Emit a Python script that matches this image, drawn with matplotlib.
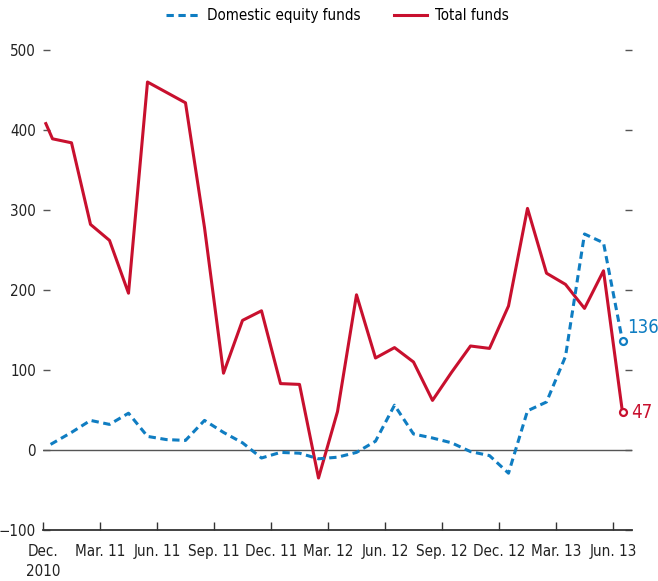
import matplotlib
matplotlib.use('Agg')
import matplotlib.pyplot as plt
from matplotlib import font_manager

# month offsets from Dec. 2010 (points sit mid-month)
total_x = [0.15, 0.5, 1.5, 2.5, 3.5, 4.5, 5.5, 6.5, 7.5, 8.5, 9.5, 10.5, 11.5, 12.5,
           13.5, 14.5, 15.5, 16.5, 17.5, 18.5, 19.5, 20.5, 21.5, 22.5, 23.5, 24.5,
           25.5, 26.5, 27.5, 28.5, 29.5, 30.5]
total_funds = [408, 389, 384, 282, 262, 196, 460, 447, 434, 278, 96, 162, 174, 83,
               82, -35, 48, 194, 115, 128, 110, 62, 97, 130, 127, 180,
               302, 221, 207, 177, 224, 47]

equity_x = [0.4, 1.5, 2.5, 3.5, 4.5, 5.5, 6.5, 7.5, 8.5, 9.5, 10.5, 11.5, 12.5,
            13.5, 14.5, 15.5, 16.5, 17.5, 18.5, 19.5, 20.5, 21.5, 22.5, 23.5, 24.5,
            25.5, 26.5, 27.5, 28.5, 29.5, 30.5]
domestic_equity = [7, 22, 37, 32, 46, 17, 13, 12, 37, 22, 9, -10, -3, -4, -11,
                   -9, -3, 11, 56, 20, 15, 9, -2, -7, -29, 49, 60, 117, 270, 259, 136]

tick_pos = [0, 3, 6, 9, 12, 15, 18, 21, 24, 27, 30]
tick_labels = ['Dec.\n2010', 'Mar. 11', 'Jun. 11', 'Sep. 11', 'Dec. 11', 'Mar. 12',
               'Jun. 12', 'Sep. 12', 'Dec. 12', 'Mar. 13', 'Jun. 13']
y_ticks = [-100, 0, 100, 200, 300, 400, 500]

RED = '#C8102E'
BLUE = '#0F7DC2'
GREY = '#333333'

# the original uses a condensed sans; take one if the machine has it
narrow = None
for f in font_manager.fontManager.ttflist:
    stretch = str(f.stretch)
    if ('Narrow' in f.name or 'Condensed' in f.name
            or stretch in ('condensed', 'semi-condensed', '500', '600')) \
            and f.style == 'normal' and f.weight in (400, 'normal', 'regular'):
        narrow = f
        break

if narrow is not None:
    plt.rcParams['font.family'] = [narrow.name, 'DejaVu Sans']
    plt.rcParams['font.stretch'] = narrow.stretch
    FS = 10.9
else:
    plt.rcParams['font.family'] = ['Liberation Sans', 'DejaVu Sans']
    FS = 10.4

fig = plt.figure(figsize=(6.58, 5.81), dpi=100)
ax = fig.add_axes([43 / 658, 1 - 530 / 581, (632 - 43) / 658, 480 / 581])

ax.axhline(0, color='#555555', linewidth=1.0, zorder=1)
ax.plot(equity_x, domestic_equity, color=BLUE, linewidth=2.2, dashes=(2.4, 1.5),
        label='Domestic equity funds', zorder=3)
ax.plot(total_x, total_funds, color=RED, linewidth=2.2, label='Total funds', zorder=2)

# end markers and values
ax.plot(equity_x[-1], domestic_equity[-1], 'o', ms=5, mfc='white', mec=BLUE, mew=1.6,
        zorder=4, clip_on=False)
ax.plot(total_x[-1], total_funds[-1], 'o', ms=5, mfc='white', mec=RED, mew=1.6,
        zorder=4, clip_on=False)
ax.annotate(str(domestic_equity[-1]), (equity_x[-1], domestic_equity[-1]),
            xytext=(3, 10), textcoords='offset points', color=BLUE, fontsize=FS + 2.5,
            va='center', ha='left', annotation_clip=False)
ax.annotate(str(total_funds[-1]), (total_x[-1], total_funds[-1]),
            xytext=(6, 0), textcoords='offset points', color=RED, fontsize=FS + 2.5,
            va='center', ha='left', annotation_clip=False)

ax.set_xlim(0, 31)
ax.set_ylim(-100, 500)
ax.set_xticks(tick_pos)
ax.set_xticklabels(tick_labels, linespacing=1.45)
ax.set_yticks(y_ticks)

for s in ['top', 'left', 'right']:
    ax.spines[s].set_visible(False)
ax.spines['bottom'].set_color(GREY)
ax.spines['bottom'].set_linewidth(1.3)

ax.tick_params(axis='x', direction='in', length=6, width=1, color=GREY,
               labelsize=FS, labelcolor='#222222', pad=10)
ax.tick_params(axis='y', direction='in', length=5, width=1, color='#555555',
               labelsize=FS, labelcolor='#222222', pad=5, right=True)

leg = ax.legend(loc='upper center', bbox_to_anchor=(0.5, 1.116), ncol=2, frameon=False,
                fontsize=FS, handlelength=2.2, columnspacing=2.2, handletextpad=0.5)

fig.savefig('out.png', dpi=100)
